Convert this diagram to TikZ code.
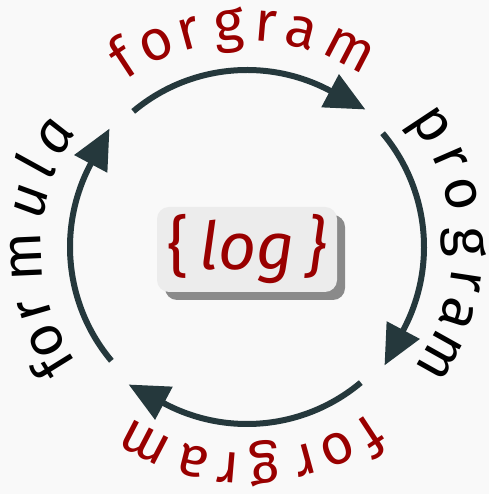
\documentclass[tikz,border=0pt]{standalone}
\usepackage{fontspec}
\setmainfont{Fira Sans}
\usetikzlibrary{arrows.meta}

\definecolor{bgcol}{HTML}{F9F9F9}
\definecolor{ringcol}{HTML}{25383C}
\definecolor{wordred}{HTML}{990000}
\definecolor{boxcol}{HTML}{ECECEC}
\definecolor{shadowcol}{HTML}{8A8A8A}

\begin{document}
\begin{tikzpicture}[x=1pt,y=1pt,
  ring/.style={draw=ringcol, line width=6pt, -{Triangle[length=40pt,width=36pt]}},
  ringletter/.style={inner sep=0pt, anchor=base, font=\fontsize{57}{57}\selectfont},
  logbox/.style={rounded corners=12pt, minimum width=180pt, minimum height=85pt,
      inner sep=0pt, fill=boxcol},
]
% canvas
\fill[bgcol] (0,0) rectangle (489,494);
\useasboundingbox (0,0) rectangle (489,494);
\coordinate (c) at (247,247);

% four arcs running clockwise, each ending in a tangent arrow head
\foreach \mid in {90,0,-90,180}{
  \draw[ring] (c) ++(\mid+40:177)
    arc[start angle=\mid+40, end angle=\mid-28, radius=177]
    -- ++(\mid-28-90:40);
}

% words around the ring: one letter per node, tops facing outwards,
% the angle of each letter is measured from the middle of its word
\foreach \ch/\off [count=\i] in
    {f/33.3, o/24.2, r/15.3, g/4.7, r/-4.9, a/-14.3, m/-27.5}{
  \path (c) ++(90+\off:206)
    node[ringletter, text=wordred, rotate=\off] (top\i) {\ch};
  \path (c) ++(-90+\off:206)
    node[ringletter, text=wordred, rotate=-180+\off] (bottom\i) {\ch};
}
\foreach \ch/\off [count=\i] in
    {p/33.5, r/23.5, o/13.9, g/1.4, r/-8.7, a/-17.7, m/-29.2}{
  \path (c) ++(\off:206)
    node[ringletter, rotate=-90+\off] (right\i) {\ch};
}
\foreach \ch/\off [count=\i] in
    {f/31.8, o/25, r/16.3, m/2.5, {\itshape u}/-12, {\itshape l}/-20.8, {\itshape a}/-29.9}{
  \path (c) ++(180+\off:206)
    node[ringletter, rotate=90+\off] (left\i) {\ch};
}

% central label with drop shadow
\node[logbox, fill=shadowcol] (shadow) at (255,236.5) {};
\node[logbox] (logo) at (247,244.5)
  {\fontsize{66}{66}\selectfont\color{wordred}\{\,\itshape log\/\,\}};
\end{tikzpicture}
\end{document}
